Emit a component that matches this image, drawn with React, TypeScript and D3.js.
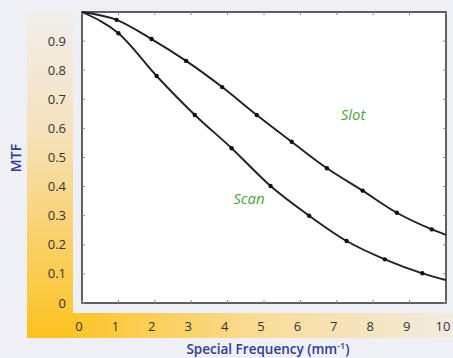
import { useMemo } from "react";
import * as d3 from "d3";

const W = 453;
const H = 358;

// frequency (mm^-1) / MTF
const slotFreq = [0, 0.95, 1.91, 2.86, 3.85, 4.8, 5.76, 6.73, 7.71, 8.65, 9.61, 10];
const slotMtf = [1.0, 0.973, 0.907, 0.832, 0.742, 0.646, 0.554, 0.463, 0.386, 0.31, 0.253, 0.234];
const scanFreq = [0, 1.0, 2.05, 3.1, 4.11, 5.18, 6.24, 7.27, 8.32, 9.35, 10];
const scanMtf = [1.0, 0.927, 0.78, 0.646, 0.532, 0.402, 0.3, 0.213, 0.15, 0.102, 0.079];

const xTicks = [0, 1, 2, 3, 4, 5, 6, 7, 8, 9, 10];
const yTicks = [0, 0.1, 0.2, 0.3, 0.4, 0.5, 0.6, 0.7, 0.8, 0.9];

const PLOT = { left: 82, right: 446, top: 12, bottom: 303 };
const FONT = "'Open Sans', 'Noto Sans', sans-serif";

const App = () => {
  const x = d3.scaleLinear().domain([0, 10]).range([PLOT.left, PLOT.right]);
  const y = d3.scaleLinear().domain([0, 1]).range([PLOT.bottom, PLOT.top]);

  const series = useMemo(() => {
    const line = d3
      .line<[number, number]>()
      .x((d) => x(d[0]))
      .y((d) => y(d[1]))
      .curve(d3.curveMonotoneX);
    const slot = slotFreq.map((f, i) => [f, slotMtf[i]] as [number, number]);
    const scan = scanFreq.map((f, i) => [f, scanMtf[i]] as [number, number]);
    return [
      { name: "slot", pts: slot, d: line(slot)! },
      { name: "scan", pts: scan, d: line(scan)! },
    ];
  }, []);

  return (
    <svg width={W} height={H} style={{ position: "absolute", left: 0, top: 0, display: "block" }}>
      <defs>
        <linearGradient id="vband" x1="0" y1="0" x2="0" y2="1">
          <stop offset="0" stopColor="#f1eeec" />
          <stop offset="0.35" stopColor="#f6e2bf" />
          <stop offset="1" stopColor="#fdc21f" />
        </linearGradient>
        <linearGradient id="hband" x1="0" y1="0" x2="1" y2="0">
          <stop offset="0" stopColor="#fdc529" />
          <stop offset="0.5" stopColor="#f9dc98" />
          <stop offset="1" stopColor="#f2ebe1" />
        </linearGradient>
      </defs>
      <rect width={W} height={H} fill="#eef0f6" />
      <rect x={27} y={12} width={46} height={326} fill="url(#vband)" />
      <rect x={73} y={313} width={W - 73} height={25} fill="url(#hband)" />

      <rect
        x={PLOT.left}
        y={PLOT.top}
        width={PLOT.right - PLOT.left}
        height={PLOT.bottom - PLOT.top}
        fill="#ffffff"
        stroke="#3a3a3a"
        strokeWidth={1.6}
      />

      {yTicks.map((t) => (
        <g key={"y" + t}>
          <line x1={PLOT.left} x2={PLOT.left + 3} y1={y(t)} y2={y(t)} stroke="#888" strokeWidth={1} />
          <line x1={PLOT.right} x2={PLOT.right - 3} y1={y(t)} y2={y(t)} stroke="#888" strokeWidth={1} />
          <text x={66} y={y(t)} dy="0.35em" textAnchor="end" fontFamily={FONT} fontSize={13} fill="#333">
            {t === 0 ? "0" : d3.format(".1f")(t)}
          </text>
        </g>
      ))}
      {xTicks.map((t) => (
        <g key={"x" + t}>
          <line x1={x(t)} x2={x(t)} y1={PLOT.bottom} y2={PLOT.bottom - 3} stroke="#888" strokeWidth={1} />
          <line x1={x(t)} x2={x(t)} y1={PLOT.top} y2={PLOT.top + 3} stroke="#888" strokeWidth={1} />
          <text x={x(t) - 3} y={326} dy="0.35em" textAnchor="middle" fontFamily={FONT} fontSize={13} fill="#333">
            {t}
          </text>
        </g>
      ))}

      {series.map((s) => (
        <g key={s.name}>
          <path d={s.d} fill="none" stroke="#222" strokeWidth={1.9} />
          {s.pts.slice(1, -1).map((p, i) => (
            <circle key={i} cx={x(p[0])} cy={y(p[1])} r={2.2} fill="#111" />
          ))}
        </g>
      ))}

      <text x={353} y={120} textAnchor="middle" fontFamily={FONT} fontStyle="italic" fontSize={15} fill="#4ca63c">
        Slot
      </text>
      <text x={249} y={204} textAnchor="middle" fontFamily={FONT} fontStyle="italic" fontSize={15} fill="#4ca63c">
        Scan
      </text>

      <text
        transform="translate(21,158) rotate(-90)"
        textAnchor="middle"
        fontFamily={FONT}
        fontWeight={600}
        fontSize={14}
        fill="#2d3d91"
      >
        MTF
      </text>
      <text x={268} y={354} textAnchor="middle" fontFamily={FONT} fontWeight={600} fontSize={13.5} fill="#2d3d91">
        Special Frequency (mm
        <tspan fontSize={9} dy={-5}>-1</tspan>
        <tspan dy={5}>)</tspan>
      </text>
    </svg>
  );
};

export default App;
